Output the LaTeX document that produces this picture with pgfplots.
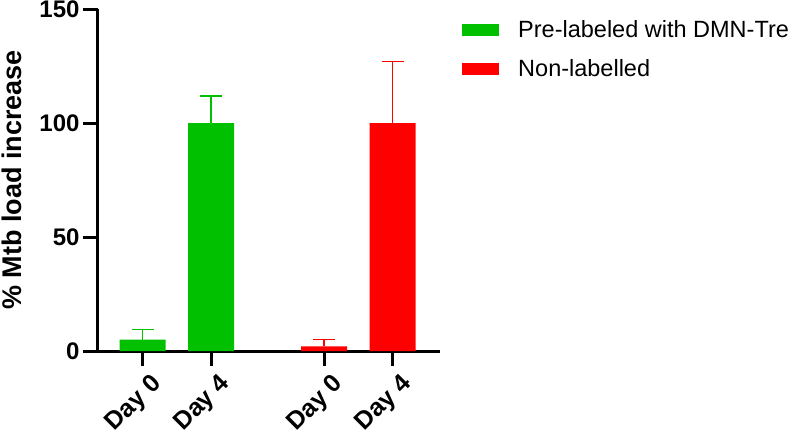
\documentclass[border=0pt]{standalone}
\usepackage{fontspec}
\setmainfont{Liberation Sans}
\usepackage{pgfplots}
\pgfplotsset{compat=1.18}
\definecolor{pgreen}{RGB}{0,192,0}
\definecolor{pred}{RGB}{255,0,0}
\begin{document}
\begin{tikzpicture}
\begin{axis}[
    scale only axis,
    width=342pt, height=341.7pt,
    xmin=-0.653, xmax=4.34,
    ymin=0, ymax=150,
    axis x line*=bottom, axis y line*=left,
    axis line style={line width=3pt, -},
    ytick={0,50,100,150},
    xtick={0,1,2.65,3.65},
    xticklabels={Day 0,Day 4,Day 0,Day 4},
    tick align=outside,
    major tick length=15pt,
    tick style={line width=3pt, black},
    /pgf/number format/assume math mode=true,
    x tick label style={rotate=45, anchor=north east, font=\bfseries\fontsize{25}{25}\selectfont, xshift=4pt, yshift=-6pt},
    y tick label style={font=\bfseries\fontsize{24}{24}\selectfont},
    ylabel={\% Mtb load increase},
    every axis y label/.style={at={(axis description cs:-0.2515,0.5)}, rotate=90, anchor=center, font=\bfseries\fontsize{27}{27}\selectfont},
    legend style={at={(1.0556,0.98)}, anchor=north west, draw=none, fill=none,
        font=\fontsize{23.5}{23.5}\selectfont, row sep=16.5pt,
        /tikz/every odd column/.append style={column sep=17pt}},
    legend cell align=left,
    ybar, bar width=46pt, bar shift=0pt,
    legend image code/.code={\fill[#1] (0pt,-6pt) rectangle (37pt,6pt);},
]
\addplot[fill=pgreen, draw=none,
    error bars/.cd, y dir=plus, y explicit,
    error bar style={line width=1.5pt, pgreen},
    error mark options={line width=1.5pt, pgreen, mark size=11pt, rotate=90}]
    coordinates {(0,5) +- (0,4.5) (1,100) +- (0,12)};
\addlegendentry{Pre-labeled with DMN-Tre}
\addplot[fill=pred, draw=none,
    error bars/.cd, y dir=plus, y explicit,
    error bar style={line width=1.5pt, pred},
    error mark options={line width=1.5pt, pred, mark size=11pt, rotate=90}]
    coordinates {(2.65,2) +- (0,3) (3.65,100) +- (0,27)};
\addlegendentry{Non-labelled}
\end{axis}
\pgfresetboundingbox
\useasboundingbox (-98pt,-86pt) rectangle (702pt,351pt);
\end{tikzpicture}
\end{document}
